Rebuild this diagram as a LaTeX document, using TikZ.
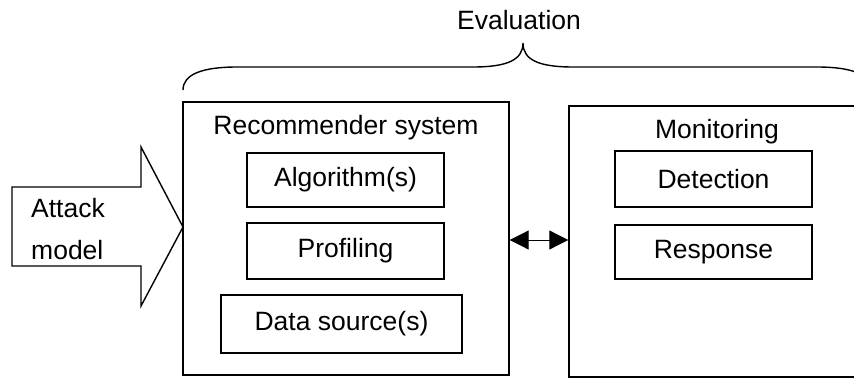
\documentclass[tikz,border=0pt]{standalone}
\usepackage{fontspec}
\setmainfont{Liberation Sans}
\usetikzlibrary{arrows.meta}
\begin{document}
\begin{tikzpicture}[x=1pt,y=-1pt,
  lw/.style={line width=1.4pt},
  txt/.style={font=\fontsize{26.5}{31}\selectfont, inner sep=0pt},
  frame/.style={draw, lw, inner sep=0pt},
  inbox/.style={draw, lw, inner sep=0pt, font=\fontsize{26.5}{31}\selectfont}]
\useasboundingbox (0,0) rectangle (854,380);
\clip (0,0) rectangle (854,380);
% brace
\draw[lw] (183,90) .. controls (183,74) and (203,67) .. (237,67) -- (473,67)
  .. controls (507,67) and (523,60) .. (523,43)
  .. controls (523,60) and (539,67) .. (573,67) -- (817,67)
  .. controls (851,67) and (871,74) .. (871,90);
\node[txt] (eval) at (519,20) {Evaluation};
% attack arrow
\draw[lw, line join=miter] (12,187) -- (141,187) -- (141,147) -- (183,227) -- (141,306) -- (141,266) -- (12,266) -- cycle;
\node[txt, anchor=west] (att) at (31,208) {Attack};
\node[txt, anchor=west] (mod) at (31,250) {model};
% recommender system
\node[frame, minimum width=326pt, minimum height=273pt] (rec) at (346,238.5) {};
\node[txt] (rectitle) at (346,128) {Recommender system};
\node[inbox, minimum width=197pt, minimum height=54pt] (alg) at (345.5,180) {Algorithm(s)};
\node[inbox, minimum width=197pt, minimum height=56pt] (prof) at (345.5,251) {Profiling};
\node[inbox, minimum width=241pt, minimum height=58pt] (data) at (341.5,324) {Data source(s)};
% monitoring
\node[frame, minimum width=301pt, minimum height=271pt] (mon) at (719.5,241.5) {};
\node[txt] (montitle) at (717,132) {Monitoring};
\node[inbox, minimum width=197pt, minimum height=56pt] (det) at (713.5,179) {Detection};
\node[inbox, minimum width=197pt, minimum height=54pt] (resp) at (713.5,252) {Response};
% double arrow
\draw[line width=1pt, {Triangle[length=19pt,width=19pt]}-{Triangle[length=19pt,width=19pt]}]
  ([yshift=-1.5pt]rec.east) -- ([yshift=-1.5pt]mon.west |- rec.east);
\end{tikzpicture}
\end{document}
